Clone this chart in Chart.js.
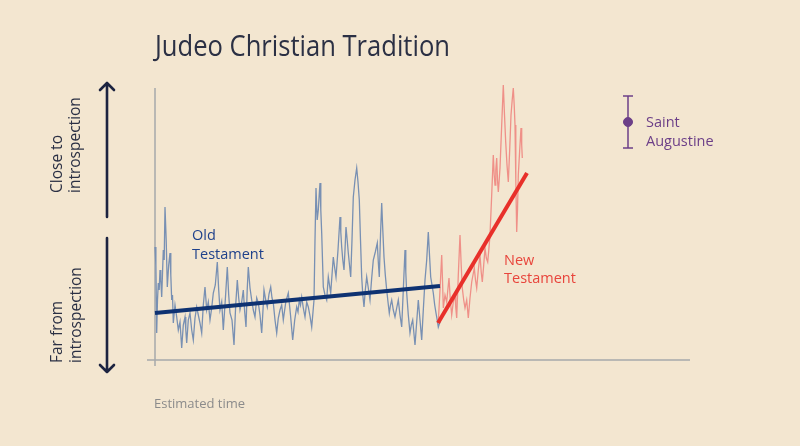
<!DOCTYPE html>
<html>
<head>
<meta charset="utf-8">
<script src="https://cdn.jsdelivr.net/npm/chart.js@4/dist/chart.umd.min.js"></script>
<style>
  html, body { margin: 0; padding: 0; background: #f3e6d0; }
  #wrap { width: 800px; height: 446px; }
</style>
</head>
<body>
<div id="wrap"><canvas id="traditionChart" width="800" height="446"></canvas></div>
<script>
// time runs left to right, introspection bottom to top (arbitrary units)
const oldTime = [0, 0.9, 1.7, 2.5, 3.3, 4.2, 5, 5.8, 6.7, 8.3, 9.2, 10, 11.2, 12.3, 13.7, 15, 15.8, 16.7, 17.5, 18.3,
  20, 21.7, 23.3, 25, 26.7, 28.3, 30, 30.8, 31.7, 33.3, 35, 36.7, 38.3, 40, 41.7, 43.3, 45, 46.7, 48.3, 50,
  51.7, 53.3, 55, 56.7, 58.3, 60.3, 62.3, 63.7, 65, 66.7, 68.3, 70.3, 72.3, 73.7, 75, 77, 79, 80.7, 82.3, 83.7,
  85, 86.7, 88.3, 89.7, 91, 92.2, 93.3, 95, 96.7, 98.3, 100, 101.7, 103.3, 105, 106.7, 108, 109, 110.7, 112.3, 114,
  115.7, 117, 118.3, 120, 121.7, 123.3, 125, 126.7, 128.3, 130.8, 133.3, 135.5, 137.7, 139.7, 141.7, 143, 144.3, 145.5, 146.7, 148.3,
  150, 151.7, 153.3, 155, 156.7, 158, 159, 160, 161, 162.2, 163.3, 164.2, 165, 165.8, 166.7, 167.5, 168.3, 170, 171.7, 172.5,
  173.3, 174.5, 175.7, 177, 178.3, 179.7, 181, 183, 185, 185.8, 186.7, 187.8, 189, 190, 191, 192.2, 193.3, 194.5, 195.7, 197,
  198.3, 200, 201.7, 203, 204.3, 205.5, 206.7, 207.8, 209, 210.3, 211.7, 213.3, 215, 216.7, 218.3, 220.3, 222.3, 223.3, 224.3, 225.5,
  226.7, 227.8, 229, 230.3, 231.7, 233, 234.3, 235.5, 236.7, 238.3, 240, 241.7, 243.3, 245, 246.7, 248.3, 250, 250.8, 251.7, 253.3,
  255, 256.3, 257.7, 258.8, 260, 261.7, 263.3, 265, 266.7, 268.3, 270, 271.7, 273.3, 274.5, 275.7, 277, 278.3, 279.7, 281, 282.2,
  283.3, 285];
const oldLevel = [113, 95, 27, 60, 77, 70, 90, 80, 63, 110, 100, 153, 120, 73, 95, 107, 85, 60, 65, 37,
  55, 43, 30, 38, 12, 35, 43, 30, 17, 40, 47, 30, 20, 42, 53, 45, 37, 27, 55, 73,
  50, 58, 40, 52, 67, 75, 98, 70, 50, 58, 30, 60, 93, 65, 47, 40, 15, 55, 80, 62,
  50, 58, 70, 48, 33, 70, 93, 72, 60, 50, 43, 62, 57, 45, 27, 50, 70, 60, 53, 66,
  73, 62, 57, 40, 27, 42, 50, 55, 40, 58, 67, 45, 20, 40, 53, 48, 60, 55, 63, 52,
  43, 58, 53, 44, 33, 48, 60, 120, 172, 140, 150, 165, 177, 150, 127, 100, 73, 65, 60, 72,
  83, 75, 67, 85, 103, 92, 83, 110, 143, 128, 113, 100, 90, 110, 133, 120, 107, 95, 83, 120,
  163, 180, 192, 178, 160, 120, 83, 65, 53, 70, 83, 72, 60, 82, 100, 108, 117, 98, 83, 125,
  157, 130, 103, 85, 70, 58, 47, 55, 60, 50, 43, 52, 60, 45, 33, 70, 110, 88, 67, 45,
  27, 35, 40, 28, 15, 38, 60, 40, 20, 50, 80, 100, 128, 105, 83, 75, 67, 55, 47, 40,
  33, 38];

const newTime = [283.3, 285, 286.7, 287.5, 288.3, 290, 291.7, 292.8, 294, 295.3, 296.7, 298.3, 300, 300.8, 301.7, 303.3, 305, 306.2,
  307.3, 308.7, 310, 311.7, 313.3, 315, 316.7, 318, 319.3, 320.5, 321.7, 323.3, 325, 326.2, 327.3, 328.7, 330, 331.3,
  332.7, 333.8, 335, 336.7, 338.3, 339.2, 340, 340.8, 341.7, 342.5, 343.3, 344.2, 345, 346.7, 348.3, 349.5, 350.7, 352,
  353.3, 354.7, 356, 357.2, 358.3, 359.2, 360, 360.8, 361.7, 362.5, 363.3, 364.7, 366, 366.7, 367.3];
const newLevel = [38, 70, 105, 80, 52, 65, 58, 70, 82, 60, 45, 58, 65, 52, 42, 85, 125, 95,
  72, 60, 52, 60, 42, 62, 78, 85, 92, 80, 72, 90, 105, 88, 78, 95, 112, 102,
  98, 110, 125, 165, 205, 185, 175, 190, 202, 180, 168, 180, 192, 235, 275, 245, 218, 195,
  178, 210, 245, 260, 272, 255, 235, 180, 128, 150, 185, 210, 232, 215, 202];

const oldTrendTime = [0, 285];
const oldTrendLevel = [47, 74];
const newTrendTime = [283, 372];
const newTrendLevel = [37, 187];

const augustineTime = 473;
const augustineLevel = 238;
const augustineRange = [212, 264];

const toPoints = (xs, ys) => xs.map((x, i) => ({ x: x, y: ys[i] }));

const INK = '#2b3044';
const FONT = '"Open Sans", sans-serif';

const decor = {
  id: 'decor',
  beforeDatasetsDraw(chart) {
    const c = chart.ctx;
    c.save();
    c.strokeStyle = '#a7a9ab';
    c.lineWidth = 1.5;
    c.beginPath();
    c.moveTo(155, 88); c.lineTo(155, 366);
    c.moveTo(147, 360); c.lineTo(690, 360);
    c.stroke();
    c.restore();
  },
  afterDraw(chart) {
    const c = chart.ctx;
    c.save();
    c.textBaseline = 'alphabetic';
    c.textAlign = 'left';

    // title, squeezed to the reference width
    c.fillStyle = INK;
    c.font = '500 29px ' + FONT;
    const title = 'Judeo Christian Tradition';
    const w = c.measureText(title).width;
    c.save();
    c.translate(155, 56);
    c.scale(295 / w, 1);
    c.fillText(title, 0, 0);
    c.restore();

    // side labels
    c.font = '15.5px ' + FONT;
    const vtext = (txt, x, y) => {
      c.save();
      c.translate(x, y);
      c.rotate(-Math.PI / 2);
      c.fillText(txt, 0, 0);
      c.restore();
    };
    vtext('Close to', 62, 193);
    vtext('introspection', 80, 193);
    vtext('Far from', 62, 363);
    vtext('introspection', 81, 363);

    // arrows
    c.strokeStyle = '#1c2340';
    c.lineWidth = 2.6;
    c.lineCap = 'round';
    c.lineJoin = 'round';
    c.beginPath();
    c.moveTo(107, 83); c.lineTo(107, 217);
    c.moveTo(100, 90); c.lineTo(107, 83); c.lineTo(114, 90);
    c.moveTo(107, 238); c.lineTo(107, 372);
    c.moveTo(100, 365); c.lineTo(107, 372); c.lineTo(114, 365);
    c.stroke();

    // annotations
    c.font = '14.5px ' + FONT;
    c.fillStyle = '#1f418b';
    c.fillText('Old', 192, 240);
    c.fillText('Testament', 192, 259);
    c.fillStyle = '#e8453c';
    c.fillText('New', 504, 265);
    c.fillText('Testament', 504, 283);
    c.fillStyle = '#6c3f88';
    c.fillText('Saint', 646, 127);
    c.fillText('Augustine', 646, 146);

    c.fillStyle = '#8b8b8b';
    c.font = '13px ' + FONT;
    c.fillText('Estimated time', 154, 408);
    c.restore();
  }
};

new Chart(document.getElementById('traditionChart'), {
  type: 'scatter',
  data: {
    datasets: [
      {
        data: toPoints(newTrendTime, newTrendLevel),
        showLine: true, borderColor: '#e8302a', borderWidth: 4, pointRadius: 0, clip: false
      },
      {
        data: toPoints(oldTrendTime, oldTrendLevel),
        showLine: true, borderColor: '#0e3272', borderWidth: 4, pointRadius: 0, clip: false
      },
      {
        data: [{ x: augustineTime, y: augustineLevel }],
        pointRadius: 4.5, backgroundColor: '#6c3f88', borderColor: '#6c3f88', clip: false
      },
      {
        data: augustineRange.map(v => ({ x: augustineTime, y: v })),
        showLine: true, borderColor: '#6c3f88', borderWidth: 1.5,
        pointStyle: 'line', pointRadius: 5, pointBorderWidth: 1.5, clip: false
      },
      {
        data: toPoints(newTime, newLevel),
        showLine: true, borderColor: '#ef9088', borderWidth: 1.3, pointRadius: 0, tension: 0, clip: false
      },
      {
        data: toPoints(oldTime, oldLevel),
        showLine: true, borderColor: '#7890b3', borderWidth: 1.3, pointRadius: 0, tension: 0, clip: false
      }
    ]
  },
  options: {
    responsive: false,
    animation: false,
    events: [],
    layout: { padding: { left: 155, right: 110, top: 85, bottom: 86 } },
    scales: {
      x: { type: 'linear', min: 0, max: 535, display: false },
      y: { type: 'linear', min: 0, max: 275, display: false }
    },
    plugins: {
      legend: { display: false },
      tooltip: { enabled: false }
    }
  },
  plugins: [decor]
});
</script>
</body>
</html>
